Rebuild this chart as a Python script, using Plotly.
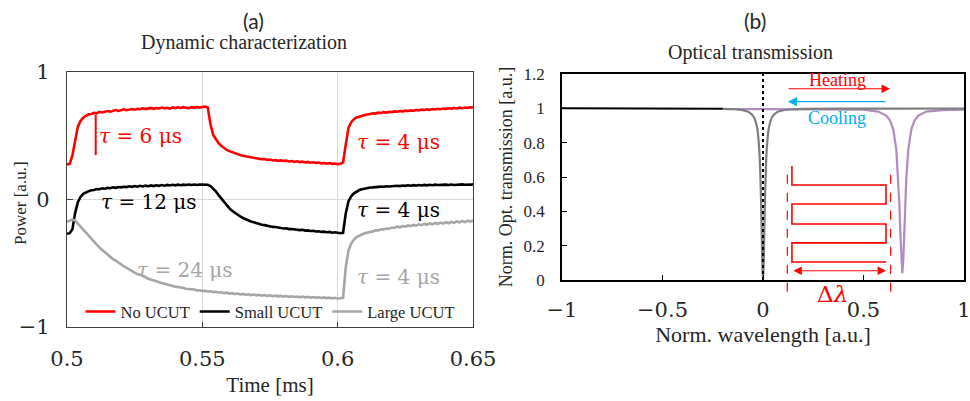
import plotly.graph_objects as go

# ---------------- (a) dynamic characterization ----------------
# oscilloscope time base, 1 us sampling (ms)
time_ms = [round(0.5 + i * 0.001, 3) for i in range(151)]

no_ucut = [
    0.274, 0.278, 0.345, 0.47, 0.57, 0.614, 0.639, 0.654, 0.666, 0.669,
    0.677, 0.674, 0.685, 0.681, 0.688, 0.692, 0.687, 0.695, 0.699, 0.693,
    0.701, 0.705, 0.698, 0.704, 0.707, 0.702, 0.709, 0.706, 0.713, 0.707,
    0.711, 0.716, 0.709, 0.715, 0.712, 0.719, 0.713, 0.717, 0.711, 0.72,
    0.715, 0.721, 0.716, 0.722, 0.718, 0.714, 0.722, 0.717, 0.723, 0.719,
    0.724, 0.727, 0.72, 0.59, 0.505, 0.467, 0.441, 0.42, 0.401, 0.387,
    0.378, 0.369, 0.362, 0.354, 0.347, 0.341, 0.337, 0.331, 0.329, 0.322,
    0.321, 0.317, 0.314, 0.316, 0.309, 0.312, 0.305, 0.308, 0.302, 0.305,
    0.3, 0.303, 0.297, 0.3, 0.294, 0.298, 0.292, 0.295, 0.289, 0.293,
    0.287, 0.29, 0.285, 0.288, 0.282, 0.285, 0.28, 0.284, 0.278, 0.281,
    0.276, 0.279, 0.29, 0.43, 0.56, 0.605, 0.628, 0.641, 0.648, 0.656,
    0.66, 0.666, 0.668, 0.674, 0.672, 0.679, 0.677, 0.683, 0.68, 0.686,
    0.684, 0.689, 0.686, 0.692, 0.689, 0.695, 0.692, 0.697, 0.694, 0.7,
    0.697, 0.703, 0.7, 0.705, 0.701, 0.708, 0.704, 0.709, 0.706, 0.711,
    0.709, 0.714, 0.71, 0.716, 0.712, 0.718, 0.714, 0.719, 0.716, 0.721,
    0.719,
]

small_ucut = [
    -0.27, -0.265, -0.235, -0.108, -0.023, 0.019, 0.043, 0.057, 0.064, 0.071,
    0.073, 0.081, 0.079, 0.086, 0.083, 0.09, 0.087, 0.094, 0.09, 0.097,
    0.094, 0.099, 0.096, 0.102, 0.098, 0.104, 0.099, 0.106, 0.101, 0.107,
    0.103, 0.109, 0.104, 0.11, 0.106, 0.112, 0.107, 0.113, 0.109, 0.114,
    0.11, 0.115, 0.111, 0.115, 0.112, 0.116, 0.113, 0.116, 0.112, 0.116,
    0.114, 0.117, 0.114, 0.104, 0.085, 0.062, 0.033, 0.005, -0.023, -0.047,
    -0.071, -0.089, -0.106, -0.121, -0.134, -0.146, -0.157, -0.165, -0.174, -0.18,
    -0.188, -0.192, -0.199, -0.202, -0.208, -0.21, -0.216, -0.217, -0.222, -0.222,
    -0.228, -0.227, -0.233, -0.232, -0.237, -0.236, -0.241, -0.239, -0.245, -0.243,
    -0.248, -0.246, -0.252, -0.25, -0.255, -0.253, -0.258, -0.255, -0.261, -0.258,
    -0.263, -0.265, -0.262, -0.108, -0.014, 0.024, 0.047, 0.062, 0.073, 0.079,
    0.085, 0.088, 0.093, 0.094, 0.097, 0.097, 0.1, 0.099, 0.103, 0.101,
    0.105, 0.103, 0.107, 0.104, 0.108, 0.106, 0.11, 0.107, 0.111, 0.108,
    0.112, 0.109, 0.113, 0.11, 0.114, 0.111, 0.115, 0.112, 0.114, 0.113,
    0.115, 0.112, 0.116, 0.113, 0.116, 0.114, 0.117, 0.114, 0.117, 0.115,
    0.117,
]

large_ucut = [
    -0.176, -0.166, -0.158, -0.166, -0.19, -0.214, -0.24, -0.262, -0.287, -0.31,
    -0.334, -0.36, -0.378, -0.396, -0.415, -0.43, -0.448, -0.468, -0.48, -0.497,
    -0.508, -0.524, -0.537, -0.55, -0.565, -0.572, -0.585, -0.59, -0.603, -0.61,
    -0.622, -0.627, -0.637, -0.641, -0.65, -0.656, -0.664, -0.667, -0.674, -0.677,
    -0.684, -0.686, -0.693, -0.694, -0.7, -0.701, -0.707, -0.706, -0.713, -0.712,
    -0.718, -0.716, -0.722, -0.72, -0.727, -0.724, -0.73, -0.728, -0.735, -0.731,
    -0.738, -0.735, -0.741, -0.738, -0.745, -0.741, -0.747, -0.744, -0.75, -0.746,
    -0.752, -0.748, -0.755, -0.75, -0.757, -0.752, -0.759, -0.754, -0.76, -0.756,
    -0.762, -0.757, -0.764, -0.759, -0.765, -0.761, -0.767, -0.762, -0.768, -0.764,
    -0.77, -0.765, -0.771, -0.767, -0.773, -0.768, -0.774, -0.77, -0.776, -0.771,
    -0.777, -0.774, -0.772, -0.53, -0.4, -0.345, -0.315, -0.296, -0.282, -0.274,
    -0.265, -0.262, -0.253, -0.251, -0.243, -0.243, -0.235, -0.236, -0.228, -0.23,
    -0.221, -0.224, -0.214, -0.219, -0.209, -0.214, -0.204, -0.21, -0.2, -0.206,
    -0.196, -0.202, -0.192, -0.199, -0.188, -0.196, -0.185, -0.193, -0.182, -0.19,
    -0.179, -0.187, -0.176, -0.184, -0.173, -0.181, -0.17, -0.178, -0.167, -0.175,
    -0.163,
]

series_names = ["No UCUT", "Small UCUT", "Large UCUT"]
series_colors = ["#FF0000", "#000000", "#A6A6A6"]

# time-constant labels: (text, colour, t [ms], power)
tau_labels = [
    ("<i>τ</i> = 6 μs", "#FF0000", 0.5112, 0.50),
    ("<i>τ</i> = 4 μs", "#FF0000", 0.6063, 0.45),
    ("<i>τ</i> = 12 μs", "#000000", 0.5120, -0.02),
    ("<i>τ</i> = 4 μs", "#000000", 0.6063, -0.08),
    ("<i>τ</i> = 24 μs", "#A6A6A6", 0.5250, -0.555),
    ("<i>τ</i> = 4 μs", "#A6A6A6", 0.6063, -0.61),
]
# 63 % rise marker on the No UCUT trace
tau_marker_t = [0.5106, 0.5106]
tau_marker_p = [0.66, 0.347]

# ---------------- (b) optical transmission ----------------
base_wl = [-1.0, -0.5, -0.2]
base_tr = [1.0, 1.0, 0.998]

cold_wl = [-0.2, -0.15, -0.1, -0.07, -0.045, -0.03, -0.02, -0.015, -0.01, -0.006,
           -0.003, 0.0, 0.003, 0.006, 0.01, 0.015, 0.02, 0.03, 0.045, 0.07,
           0.1, 0.15, 0.2, 0.4, 0.7, 1.0]
cold_tr = [0.997, 0.995, 0.989, 0.978, 0.948, 0.891, 0.784, 0.671, 0.476, 0.246,
           0.076, 0.0, 0.076, 0.246, 0.476, 0.671, 0.784, 0.891, 0.948, 0.978,
           0.989, 0.995, 0.997, 0.998, 0.998, 0.999]

hot_wl = [-0.2, 0.0, 0.2, 0.393, 0.493, 0.573, 0.613, 0.633, 0.648, 0.663,
          0.673, 0.678, 0.683, 0.688, 0.693, 0.698, 0.703, 0.708, 0.713, 0.723,
          0.738, 0.753, 0.773, 0.813, 0.893, 1.0]
hot_tr = [0.996, 0.996, 0.995, 0.997, 0.993, 0.981, 0.958, 0.927, 0.878, 0.7625,
          0.592, 0.455, 0.2825, 0.115, 0.04, 0.115, 0.2825, 0.455, 0.592, 0.7625,
          0.878, 0.927, 0.958, 0.981, 0.99, 0.992]

# serpentine heater sketch, in wavelength / transmission units
heater_x = [0.144, 0.144, 0.612, 0.612, 0.144, 0.144, 0.612, 0.612, 0.144, 0.144, 0.612]
heater_y = [0.664, 0.553, 0.553, 0.443, 0.443, 0.326, 0.326, 0.216, 0.216, 0.105, 0.105]
shift_left, shift_right = 0.121, 0.635
span_y = 0.054

RED, CYAN = "#FF0000", "#00B0F0"
SERIF = "Liberation Serif"
MATH = "DejaVu Serif"
INK = "#262626"

fig = go.Figure()

for name, col, ys in zip(series_names, series_colors, [no_ucut, small_ucut, large_ucut]):
    fig.add_trace(go.Scatter(x=time_ms, y=ys, mode="lines", name=name,
                             line=dict(color=col, width=2.6), xaxis="x", yaxis="y"))

fig.add_trace(go.Scatter(x=tau_marker_t, y=tau_marker_p, mode="lines", showlegend=False,
                         line=dict(color=RED, width=2), xaxis="x", yaxis="y"))

fig.add_trace(go.Scatter(x=hot_wl, y=hot_tr, mode="lines", showlegend=False,
                         line=dict(color="#B08BC0", width=2.2), xaxis="x2", yaxis="y2"))
fig.add_trace(go.Scatter(x=cold_wl, y=cold_tr, mode="lines", showlegend=False,
                         line=dict(color="#7F7F7F", width=2.2, shape="spline"),
                         xaxis="x2", yaxis="y2"))
fig.add_trace(go.Scatter(x=base_wl, y=base_tr, mode="lines", showlegend=False,
                         line=dict(color="#000000", width=2), xaxis="x2", yaxis="y2"))
fig.add_trace(go.Scatter(x=heater_x, y=heater_y, mode="lines", showlegend=False,
                         line=dict(color=RED, width=1.6), xaxis="x2", yaxis="y2"))

shapes = [
    dict(type="line", xref="x2", yref="y2", x0=0, x1=0, y0=0, y1=1.2,
         line=dict(color="#000000", width=2, dash="dot")),
]
for xv in (shift_left, shift_right):
    shapes.append(dict(type="line", xref="x2", yref="y2 domain", x0=xv, x1=xv,
                       y0=-0.057, y1=0.553, line=dict(color=RED, width=1.2, dash="dash")))

annotations = []
for txt, col, tx, py in tau_labels:
    annotations.append(dict(text=txt, x=tx, y=py, xref="x", yref="y", xanchor="left",
                            yanchor="middle", showarrow=False,
                            font=dict(family=MATH, size=20, color=col)))

# panel headers and the left vertical axis caption
header = dict(xref="paper", yref="paper", xanchor="center", yanchor="middle",
              showarrow=False)
annotations += [
    dict(text="(a)", x=253 / 970, y=1 - 20 / 401,
         font=dict(family="Lato", size=21, color=INK), **header),
    dict(text="Dynamic characterization", x=244 / 970, y=1 - 43 / 401,
         font=dict(family=SERIF, size=20, color=INK), **header),
    dict(text="(b)", x=755 / 970, y=1 - 20 / 401,
         font=dict(family="Lato", size=21, color=INK), **header),
    dict(text="Optical transmission", x=750 / 970, y=1 - 52 / 401,
         font=dict(family=SERIF, size=20, color=INK), **header),
    dict(text="Power [a.u.]", x=20 / 970, y=1 - 203 / 401, textangle=-90,
         font=dict(family=SERIF, size=17, color=INK), **header),
]

# heating / cooling arrows and labels
annotations += [
    dict(x=0.632, y=1.114, ax=0.12, ay=1.114, xref="x2", yref="y2", axref="x2", ayref="y2",
         text="", showarrow=True, arrowhead=2, arrowsize=1.4, arrowwidth=1.2,
         arrowcolor=RED, standoff=0),
    dict(x=0.124, y=1.039, ax=0.617, ay=1.039, xref="x2", yref="y2", axref="x2", ayref="y2",
         text="", showarrow=True, arrowhead=2, arrowsize=1.4, arrowwidth=1.3,
         arrowcolor=CYAN, standoff=0),
    dict(text="Heating", x=0.373, y=1.165, xref="x2", yref="y2", showarrow=False,
         font=dict(family=SERIF, size=18, color=RED)),
    dict(text="Cooling", x=0.37, y=0.944, xref="x2", yref="y2", showarrow=False,
         font=dict(family=SERIF, size=18, color=CYAN)),
    dict(x=0.612, y=span_y, ax=0.144, ay=span_y, xref="x2", yref="y2", axref="x2",
         ayref="y2", text="", showarrow=True, arrowhead=2, arrowside="end+start",
         arrowsize=1.4, arrowwidth=1.2, arrowcolor=RED, standoff=0, startstandoff=0),
    dict(text="Δ<i>λ</i>", x=0.348, y=-0.068, xref="x2", yref="y2 domain",
         xanchor="center", yanchor="middle", showarrow=False,
         font=dict(family=MATH, size=23, color=RED)),
]

fig.update_layout(
    width=970, height=401,
    margin=dict(l=0, r=0, t=0, b=0, autoexpand=False),
    paper_bgcolor="white", plot_bgcolor="white",
    showlegend=True,
    legend=dict(orientation="h", x=270 / 970, y=1 - 311.7 / 401, xanchor="center",
                yanchor="middle", bgcolor="rgba(0,0,0,0)",
                font=dict(family=SERIF, size=16.5, color=INK),
                itemwidth=30, tracegroupgap=0),
    xaxis=dict(domain=[67 / 970, 473 / 970], range=[0.5, 0.65], automargin=False,
               tickvals=[0.5, 0.55, 0.6, 0.65], ticktext=["0.5", "0.55", "0.6", "0.65"],
               showgrid=True, gridcolor="#D9D9D9", gridwidth=1, zeroline=False,
               showline=True, mirror=True, linecolor="#404040", linewidth=1.2,
               ticks="inside", ticklen=5, tickcolor="#404040", ticklabelstandoff=13,
               ticklabeloverflow="allow",
               tickfont=dict(family=MATH, size=21, color=INK),
               title=dict(text="Time [ms]", standoff=7,
                          font=dict(family=SERIF, size=21, color=INK))),
    yaxis=dict(domain=[1 - 327 / 401, 1 - 71.7 / 401], range=[-1, 1], automargin=False,
               tickvals=[-1, 0, 1],
               showgrid=True, gridcolor="#D9D9D9", gridwidth=1, zeroline=False,
               showline=True, mirror=True, linecolor="#404040", linewidth=1.2,
               ticks="inside", ticklen=6, tickcolor="#404040", ticklabelstandoff=12,
               ticklabeloverflow="allow",
               tickfont=dict(family=MATH, size=21, color=INK)),
    xaxis2=dict(domain=[562 / 970, 964 / 970], range=[-1, 1], anchor="y2", automargin=False,
                tickvals=[-1, -0.5, 0, 0.5, 1], showgrid=False, zeroline=False,
                showline=True, mirror=True, linecolor="#000000", linewidth=1.5,
                ticks="inside", ticklen=5, tickcolor="#000000", ticklabelstandoff=10,
                ticklabeloverflow="allow",
                tickfont=dict(family=MATH, size=21, color=INK),
                title=dict(text="Norm. wavelength [a.u.]", standoff=5,
                           font=dict(family=SERIF, size=22, color=INK))),
    yaxis2=dict(domain=[1 - 280 / 401, 1 - 74 / 401], range=[0, 1.2], anchor="x2",
                automargin=False,
                tickvals=[0, 0.2, 0.4, 0.6, 0.8, 1.0, 1.2], showgrid=False, zeroline=False,
                showline=True, mirror=True, linecolor="#000000", linewidth=1.5,
                ticks="inside", ticklen=5, tickcolor="#000000", ticklabelstandoff=12,
                ticklabeloverflow="allow",
                tickfont=dict(family=SERIF, size=17, color=INK),
                title=dict(text="Norm. Opt. transmission [a.u.]", standoff=6,
                           font=dict(family=SERIF, size=18, color=INK))),
    shapes=shapes,
    annotations=annotations,
)

fig.write_html("out.html")
